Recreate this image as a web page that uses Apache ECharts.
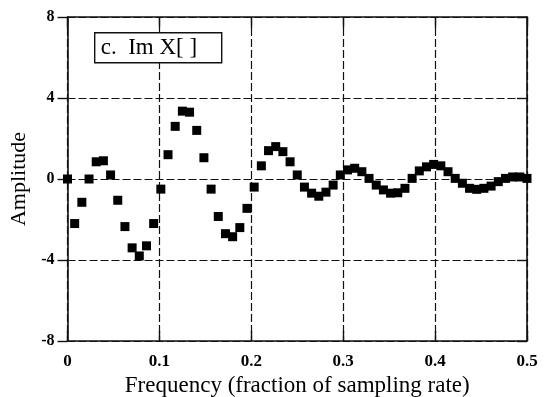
<!DOCTYPE html>
<html>
<head>
<meta charset="utf-8">
<script src="https://cdn.jsdelivr.net/npm/echarts@6/dist/echarts.min.js"></script>
<style>
  html, body { margin: 0; padding: 0; background: #fff; }
  #chart { width: 548px; height: 397px; }
</style>
</head>
<body>
<div id="chart"></div>
<script>
// Imaginary part of a 128-point DFT, bins 0..64
const N = 128;
const imX = [
  0.00, -2.20, -1.15, 0.00, 0.85, 0.90, 0.20, -1.05,
  -2.35, -3.40, -3.80, -3.30, -2.20, -0.50, 1.20, 2.60,
  3.35, 3.30, 2.40, 1.05, -0.50, -1.85, -2.70, -2.85,
  -2.40, -1.45, -0.40, 0.65, 1.40, 1.60, 1.35, 0.85,
  0.20, -0.40, -0.70, -0.85, -0.65, -0.30, 0.20, 0.45,
  0.53, 0.36, 0.03, -0.30, -0.54, -0.70, -0.68, -0.46,
  0.03, 0.40, 0.60, 0.72, 0.65, 0.36, 0.03, -0.21,
  -0.46, -0.51, -0.46, -0.35, -0.13, 0.03, 0.10, 0.10,
  0.03
];
const xTicks = [0, 0.1, 0.2, 0.3, 0.4, 0.5];
const yTicks = [-8, -4, 0, 4, 8];
const panelTitle = 'c.  Im X[ ]';
const xTitle = 'Frequency (fraction of sampling rate)';
const yTitle = 'Amplitude';

// frequency of each bin as a fraction of the sampling rate
const points = imX.map((v, k) => [k / N, v]);

const serif = '"Liberation Serif", "DejaVu Serif", serif';
const ink = '#111';
const dash = { color: ink, width: 1.2, type: [8, 3] };

const chart = echarts.init(document.getElementById('chart'), null, { renderer: 'canvas' });
chart.setOption({
  animation: false,
  backgroundColor: '#fff',
  grid: { left: 67.5, right: 21, top: 17, bottom: 56, containLabel: false, outerBoundsMode: 'none' },
  xAxis: [{
    type: 'value', min: xTicks[0], max: xTicks[xTicks.length - 1], interval: 0.1,
    name: xTitle, nameLocation: 'middle', nameGap: 27,
    nameTextStyle: { fontFamily: serif, fontSize: 23, color: '#000' },
    axisLine: { onZero: false, lineStyle: { color: ink, width: 1.6 } },
    axisTick: { inside: true, length: 10, lineStyle: { color: ink, width: 1.4 } },
    axisLabel: { fontFamily: serif, fontSize: 17, fontWeight: 'bold', color: '#000', margin: 12,
      formatter: v => String(v) },
    splitLine: { show: true, lineStyle: dash }
  }, {
    type: 'value', position: 'top', min: xTicks[0], max: xTicks[xTicks.length - 1], interval: 0.1,
    axisLine: { onZero: false, lineStyle: { color: ink, width: 1.6 } },
    axisTick: { inside: true, length: 11, lineStyle: { color: ink, width: 1.4 } },
    axisLabel: { show: false }, splitLine: { show: false }
  }],
  yAxis: [{
    type: 'value', min: yTicks[0], max: yTicks[yTicks.length - 1], interval: 4,
    name: yTitle, nameLocation: 'middle', nameGap: 33, nameRotate: 90,
    nameTextStyle: { fontFamily: serif, fontSize: 22, color: '#000' },
    axisLine: { onZero: false, lineStyle: { color: ink, width: 1.6 } },
    axisTick: { inside: false, length: 10, lineStyle: { color: ink, width: 1.4 } },
    axisLabel: { fontFamily: serif, fontSize: 16, fontWeight: 'bold', color: '#000', margin: 13 },
    splitLine: { show: true, lineStyle: dash }
  }, {
    type: 'value', position: 'right', min: yTicks[0], max: yTicks[yTicks.length - 1], interval: 4,
    axisLine: { onZero: false, lineStyle: { color: ink, width: 1.6 } },
    axisTick: { inside: true, length: 10, lineStyle: { color: ink, width: 1.4 } },
    axisLabel: { show: false }, splitLine: { show: false }
  }],
  series: [{
    type: 'scatter',
    data: points,
    symbol: 'rect',
    symbolSize: 9,
    itemStyle: { color: '#000', opacity: 1 },
    z: 3
  }],
  graphic: [{
    type: 'group', left: 94, top: 32, z: 100,
    children: [{
      type: 'rect', z: 100,
      shape: { x: 0, y: 0, width: 127, height: 30 },
      style: { fill: '#fff', stroke: ink, lineWidth: 1.4 }
    }, {
      type: 'text', x: 6, y: 15, z: 101,
      style: { text: panelTitle, font: '23px ' + serif, fill: '#000', verticalAlign: 'middle' }
    }]
  }]
});
</script>
</body>
</html>
